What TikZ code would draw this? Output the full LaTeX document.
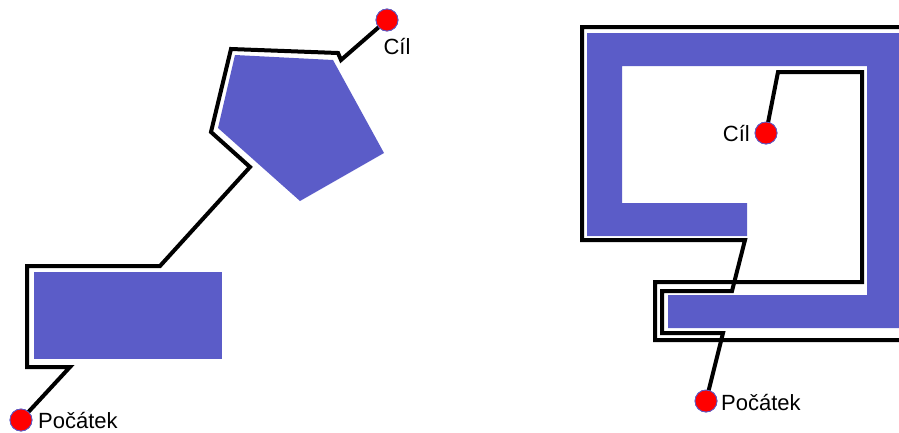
\documentclass[tikz,border=0pt]{standalone}
\usepackage{fontspec}
\setmainfont{Liberation Sans}
\definecolor{obst}{RGB}{91,92,200}
\begin{document}
\begin{tikzpicture}[x=1pt,y=-1pt,
  obstacle/.style={fill=obst,draw=none},
  route/.style={draw=black,line width=4pt,line join=miter},
  halo/.style={draw=white,line width=7pt,line join=miter},
  dot/.style={circle,fill=red,draw=obst,line width=0.8pt,inner sep=0pt,minimum size=22pt},
  lbl/.style={font=\fontsize{22}{25}\selectfont,inner sep=0pt}]
\useasboundingbox (0,0) rectangle (899,432);

% ---------- left scene ----------
\fill[obstacle] (34,272) rectangle (222,359);
\fill[obstacle] (235,55) -- (333,60) -- (384,153) -- (300,201) -- (218,128) -- cycle;

\node[dot] (s1) at (21,420) {};
\node[dot] (g1) at (387,20) {};
\node[lbl,anchor=west] (s1l) at (38,420) {Počátek};
\node[lbl] (g1l) at (397,47) {Cíl};

\begin{scope}
\clip (0,0) rectangle (899,432);
\foreach \st in {halo,route}
  \draw[\st] (s1.center) -- (70,367) -- (27,367) -- (27,266) -- (160,266) -- (250,167)
        -- (211,132) -- (231,49) -- (338,53) -- (341,60) -- (g1.center);
\end{scope}

% ---------- right scene ----------
\fill[obstacle] (587,33) -- (899,33) -- (899,328) -- (668,328) -- (668,295) -- (867,295)
  -- (867,66) -- (622,66) -- (622,203) -- (747,203) -- (747,236) -- (587,236) -- cycle;

\node[dot] (s2) at (706,401) {};
\node[dot] (g2) at (766,133) {};
\node[lbl,anchor=west] (s2l) at (721,402) {Počátek};
\node[lbl,anchor=east] (g2l) at (750,134) {Cíl};

\coordinate (outA) at (899,27);
\coordinate (inB) at (899,340);

\begin{scope}
\clip (0,0) rectangle (899,432);
\foreach \st in {halo,route}{
  \draw[\st] (s2.center) -- (723,333) -- (662,333) -- (662,291) -- (732,291) -- (745,240)
        -- (582,240) -- (582,27) -- (outA);
  \draw[\st] (inB) -- (655,340) -- (655,282) -- (862,282) -- (862,72) -- (778,72) -- (g2.center);
}
\end{scope}

% dots on top of the routes
\foreach \d/\p in {s1/{(21,420)},g1/{(387,20)},s2/{(706,401)},g2/{(766,133)}}
  \node[dot] at \p {};
\end{tikzpicture}
\end{document}
